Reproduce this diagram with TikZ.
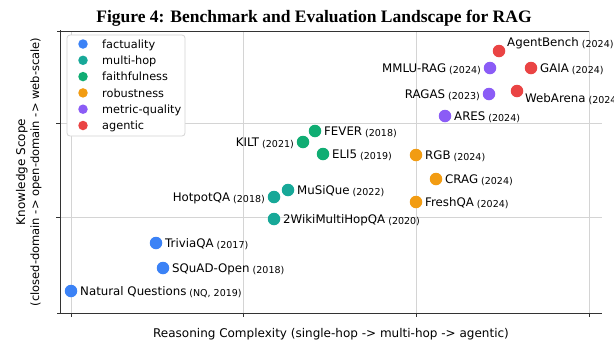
\documentclass[tikz,border=0pt]{standalone}
\usepackage{fontspec}
\setmainfont{DejaVu Sans}
\newfontfamily\titlefont{Liberation Serif}
\definecolor{cfact}{HTML}{3B82F6}
\definecolor{cmulti}{HTML}{17A898}
\definecolor{cfaith}{HTML}{10AD73}
\definecolor{crob}{HTML}{F29C12}
\definecolor{cmetric}{HTML}{8B5CF6}
\definecolor{cagent}{HTML}{EA4444}
\definecolor{gridc}{HTML}{D4D4D4}
\definecolor{spinec}{HTML}{333333}
\newcommand\yrs[1]{{\fontsize{9.5}{11}\selectfont\ \raisebox{-1pt}{#1}}}
\tikzset{
  dot/.style={circle, inner sep=0pt, minimum size=12.5pt, draw=none},
  ldot/.style={circle, inner sep=0pt, minimum size=9.5pt, draw=none},
  lbl/.style={inner sep=0pt, font=\fontsize{11.8}{13}\selectfont},
  lgt/.style={inner sep=0pt, anchor=base west, font=\fontsize{11.3}{13}\selectfont},
  gridl/.style={draw=gridc, line width=0.8pt},
  spine/.style={draw=spinec, line width=1pt},
  axl/.style={inner sep=0pt, anchor=base, font=\fontsize{12}{14}\selectfont},
}
\begin{document}
\begin{tikzpicture}[x=1pt, y=-1pt]
\useasboundingbox (0,0) rectangle (614,346);
\fill[white] (0,0) rectangle (614,346);
% title
\node[inner sep=0pt, anchor=base, font=\titlefont\bfseries\fontsize{17.5}{20}\selectfont] (title) at (314,22) {Figure 4: Benchmark and Evaluation Landscape for RAG};
% grid
\coordinate (g1t) at (71,31);  \coordinate (g1b) at (71,313);
\coordinate (g2t) at (243,31); \coordinate (g2b) at (243,313);
\coordinate (g3t) at (416,31); \coordinate (g3b) at (416,313);
\coordinate (g4t) at (589,31); \coordinate (g4b) at (589,313);
\coordinate (h1l) at (60,123); \coordinate (h1r) at (602,123);
\coordinate (h2l) at (60,217); \coordinate (h2r) at (602,217);
\draw[gridl] (g1t) -- (g1b); \draw[gridl] (g2t) -- (g2b);
\draw[gridl] (g3t) -- (g3b); \draw[gridl] (g4t) -- (g4b);
\draw[gridl] (h1l) -- (h1r); \draw[gridl] (h2l) -- (h2r);
% spines
\coordinate (tl) at (57,31); \coordinate (tr) at (589,31);
\coordinate (lt) at (60,30); \coordinate (lb) at (60,313);
\coordinate (bl) at (57,313); \coordinate (br) at (602,313);
\draw[spine] (tl) -- (tr);
\draw[spine] (lt) -- (lb);
\draw[spine] (bl) -- (br);
% ticks
\coordinate (t1) at (71,317); \coordinate (t2) at (243,317);
\coordinate (t3) at (416,317); \coordinate (t4) at (589,317);
\draw[spine] (g1b) -- (t1); \draw[spine] (g2b) -- (t2);
\draw[spine] (g3b) -- (t3); \draw[spine] (g4b) -- (t4);
\coordinate (lt1) at (56,123); \coordinate (lt2) at (56,217);
\draw[spine] (h1l) -- (lt1); \draw[spine] (h2l) -- (lt2);
% axis labels
\node[axl] (xlab) at (331,337) {Reasoning Complexity (single-hop -> multi-hop -> agentic)};
\node[axl, rotate=90] (ylab1) at (25,172) {Knowledge Scope};
\node[axl, rotate=90, font=\fontsize{11.5}{14}\selectfont] (ylab2) at (39,172) {(closed-domain -> open-domain -> web-scale)};
% legend
\draw[draw=gridc, fill=white, rounded corners=3pt, line width=0.8pt] (67,35) rectangle (185,136);
\node[ldot, fill=cfact] (lg1) at (83,44) {};
\node[ldot, fill=cmulti] (lg2) at (83,60.3) {};
\node[ldot, fill=cfaith] (lg3) at (83,76.6) {};
\node[ldot, fill=crob] (lg4) at (83,92.9) {};
\node[ldot, fill=cmetric] (lg5) at (83,109.2) {};
\node[ldot, fill=cagent] (lg6) at (83,125.5) {};
\node[lgt] (lt1t) at (102,48.1) {factuality};
\node[lgt] (lt2t) at (102,64.4) {multi-hop};
\node[lgt] (lt3t) at (102,80.7) {faithfulness};
\node[lgt] (lt4t) at (102,97.0) {robustness};
\node[lgt] (lt5t) at (102,113.3) {metric-quality};
\node[lgt] (lt6t) at (102,129.6) {agentic};
% dots
\node[dot, fill=cfact] (nq) at (71,291) {};
\node[dot, fill=cfact] (squad) at (163,268) {};
\node[dot, fill=cfact] (trivia) at (156,243) {};
\node[dot, fill=cmulti] (wiki) at (274,219) {};
\node[dot, fill=cmulti] (hotpot) at (274,197) {};
\node[dot, fill=cmulti] (musique) at (288,190) {};
\node[dot, fill=cfaith] (kilt) at (303,142) {};
\node[dot, fill=cfaith] (fever) at (315,131) {};
\node[dot, fill=cfaith] (eli5) at (323,154) {};
\node[dot, fill=crob] (rgb) at (416,155) {};
\node[dot, fill=crob] (crag) at (436,179) {};
\node[dot, fill=crob] (fresh) at (416,202) {};
\node[dot, fill=cmetric] (ares) at (445,116) {};
\node[dot, fill=cmetric] (ragas) at (489,94) {};
\node[dot, fill=cmetric] (mmlu) at (490,68) {};
\node[dot, fill=cagent] (agent) at (499,51) {};
\node[dot, fill=cagent] (gaia) at (531,68) {};
\node[dot, fill=cagent] (web) at (517,91) {};
% labels
\node[lbl, anchor=base west] (nqL) at (80,295.3) {Natural Questions\yrs{(NQ, 2019)}};
\node[lbl, anchor=base west] (squadL) at (172,272.3) {SQuAD-Open\yrs{(2018)}};
\node[lbl, anchor=base west] (triviaL) at (165,247.3) {TriviaQA\yrs{(2017)}};
\node[lbl, anchor=base west] (wikiL) at (283,223.3) {2WikiMultiHopQA\yrs{(2020)}};
\node[lbl, anchor=base east] (hotpotL) at (265,201.3) {HotpotQA\yrs{(2018)}};
\node[lbl, anchor=base west] (musiqueL) at (297,194.3) {MuSiQue\yrs{(2022)}};
\node[lbl, anchor=base east] (kiltL) at (294,146.3) {KILT\yrs{(2021)}};
\node[lbl, anchor=base west] (feverL) at (324,135.3) {FEVER\yrs{(2018)}};
\node[lbl, anchor=base west] (eli5L) at (332,158.3) {ELI5\yrs{(2019)}};
\node[lbl, anchor=base west] (rgbL) at (425,159.3) {RGB\yrs{(2024)}};
\node[lbl, anchor=base west] (cragL) at (445,183.3) {CRAG\yrs{(2024)}};
\node[lbl, anchor=base west] (freshL) at (425,206.3) {FreshQA\yrs{(2024)}};
\node[lbl, anchor=base west] (aresL) at (454,120.3) {ARES\yrs{(2024)}};
\node[lbl, anchor=base east] (ragasL) at (480,98.3) {RAGAS\yrs{(2023)}};
\node[lbl, anchor=base east] (mmluL) at (481,72.3) {MMLU-RAG\yrs{(2024)}};
\node[lbl, anchor=base west] (agentL) at (507,46.3) {AgentBench\yrs{(2024)}};
\node[lbl, anchor=base west] (gaiaL) at (540,72.3) {GAIA\yrs{(2024)}};
\node[lbl, anchor=base west] (webL) at (525,102.3) {WebArena\yrs{(2024)}};
\end{tikzpicture}
\end{document}
